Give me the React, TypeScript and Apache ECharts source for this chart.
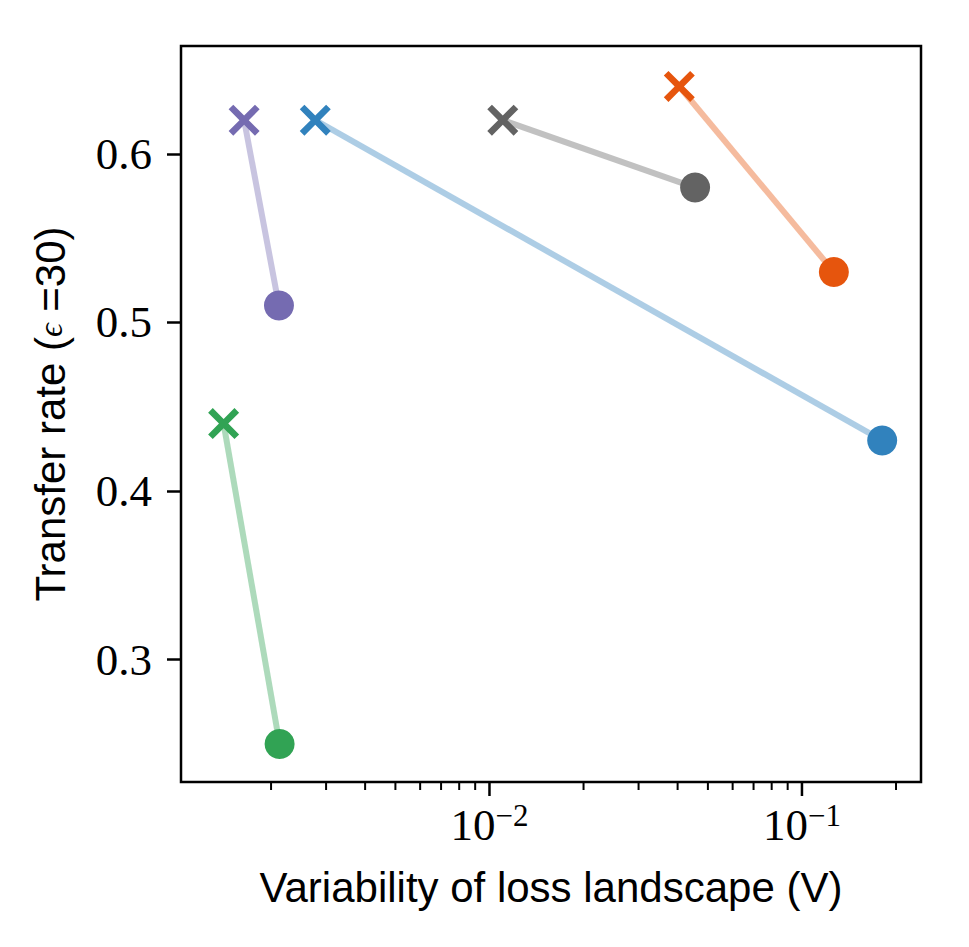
import React, { useEffect, useRef } from 'react';
import * as echarts from 'echarts';

const groups = ['purple', 'blue', 'gray', 'orange', 'green'];
const colors = ['#756bb1', '#3182bd', '#636363', '#e6550d', '#31a354'];
const crossX = [1.64e-3, 2.77e-3, 0.01103, 0.0405, 1.41e-3];
const crossY = [0.62, 0.62, 0.62, 0.64, 0.44];
const dotX = [2.12e-3, 0.1806, 0.0455, 0.1265, 2.13e-3];
const dotY = [0.51, 0.43, 0.58, 0.53, 0.25];
const xMajorTicks = [0.01, 0.1];
const xMinorTicks = [
  0.002, 0.003, 0.004, 0.005, 0.006, 0.007, 0.008, 0.009,
  0.02, 0.03, 0.04, 0.05, 0.06, 0.07, 0.08, 0.09, 0.2,
];
const yTicks = [0.3, 0.4, 0.5, 0.6];
const X_MIN = 1.03e-3;
const X_MAX = 0.2404;
const Y_MIN = 0.2274;
const Y_MAX = 0.664;

const crossPath =
  'path://M0,15L15,0L50,35L85,0L100,15L65,50L100,85L85,100L50,65L15,100L0,85L35,50Z';

const SERIF = '"Liberation Serif", "DejaVu Serif", serif';
const SANS = '"Liberation Sans", "DejaVu Sans", sans-serif';

export default function App() {
  const ref = useRef<HTMLDivElement>(null);
  useEffect(() => {
    if (!ref.current) return;
    const chart = echarts.init(ref.current, null, { renderer: 'svg' });
    const tickData = [
      ...xMajorTicks.map((v) => [v, Y_MIN, 1]),
      ...xMinorTicks.map((v) => [v, Y_MIN, 0]),
    ];
    chart.setOption({
      animation: false,
      backgroundColor: '#fff',
      grid: {
        left: 181,
        top: 46,
        width: 740,
        height: 736,
        show: true,
        borderColor: '#000',
        borderWidth: 2.5,
        backgroundColor: 'transparent',
      },
      xAxis: {
        type: 'log',
        logBase: 10,
        min: X_MIN,
        max: X_MAX,
        axisLine: { show: false },
        axisTick: { show: false },
        splitLine: { show: false },
        minorTick: { show: false },
        axisLabel: {
          showMinLabel: false,
          showMaxLabel: false,
          margin: 18,
          formatter: (v: number) => {
            const e = Math.round(Math.log10(v));
            return `{b|10}{s|−${Math.abs(e)}}`;
          },
          rich: {
            b: { fontFamily: SERIF, fontSize: 45, color: '#000', lineHeight: 50 },
            s: {
              fontFamily: SERIF,
              fontSize: 31,
              color: '#000',
              verticalAlign: 'top',
              lineHeight: 26,
            },
          },
        },
        name: 'Variability of loss landscape (V)',
        nameLocation: 'middle',
        nameGap: 84,
        nameTextStyle: { fontFamily: SANS, fontSize: 42, color: '#000' },
      },
      yAxis: {
        type: 'value',
        min: Y_MIN,
        max: Y_MAX,
        axisLine: { show: false },
        splitLine: { show: false },
        axisTick: {
          show: true,
          customValues: yTicks,
          length: 14,
          lineStyle: { color: '#000', width: 2.5 },
        },
        axisLabel: {
          customValues: yTicks,
          margin: 29,
          fontFamily: SERIF,
          fontSize: 45,
          color: '#000',
          formatter: (v: number) => v.toFixed(1),
        },
        name: '{a|Transfer rate (}{e|ϵ}{a| =30)}',
        nameLocation: 'middle',
        nameGap: 110,
        nameRotate: 90,
        nameTextStyle: {
          rich: {
            a: { fontFamily: SANS, fontSize: 42, color: '#000' },
            e: { fontFamily: SERIF, fontStyle: 'italic', fontSize: 34, color: '#000' },
          },
        },
      },
      series: [
        ...groups.map((g, i) => ({
          type: 'line',
          name: g,
          data: [
            { value: [crossX[i], crossY[i]], symbol: crossPath, symbolSize: 31 },
            { value: [dotX[i], dotY[i]], symbol: 'circle', symbolSize: 30 },
          ],
          showSymbol: true,
          showAllSymbol: true,
          clip: false,
          lineStyle: { color: colors[i], width: 6, opacity: 0.4 },
          itemStyle: { color: colors[i], opacity: 1 },
          z: 3,
        })),
        {
          type: 'custom',
          name: 'xticks',
          clip: false,
          silent: true,
          data: tickData,
          renderItem: (params: any, api: any) => {
            const p = api.coord([api.value(0), api.value(1)]);
            const major = api.value(2) === 1;
            const len = major ? 14 : 8;
            return {
              type: 'line',
              shape: { x1: p[0], y1: p[1], x2: p[0], y2: p[1] + len },
              style: { stroke: '#000', lineWidth: major ? 2.5 : 2 },
            };
          },
          z: 2,
        },
      ],
    });
    return () => chart.dispose();
  }, []);
  return (
    <div
      ref={ref}
      style={{ position: 'fixed', left: 0, top: 0, width: 969, height: 947 }}
    />
  );
}
